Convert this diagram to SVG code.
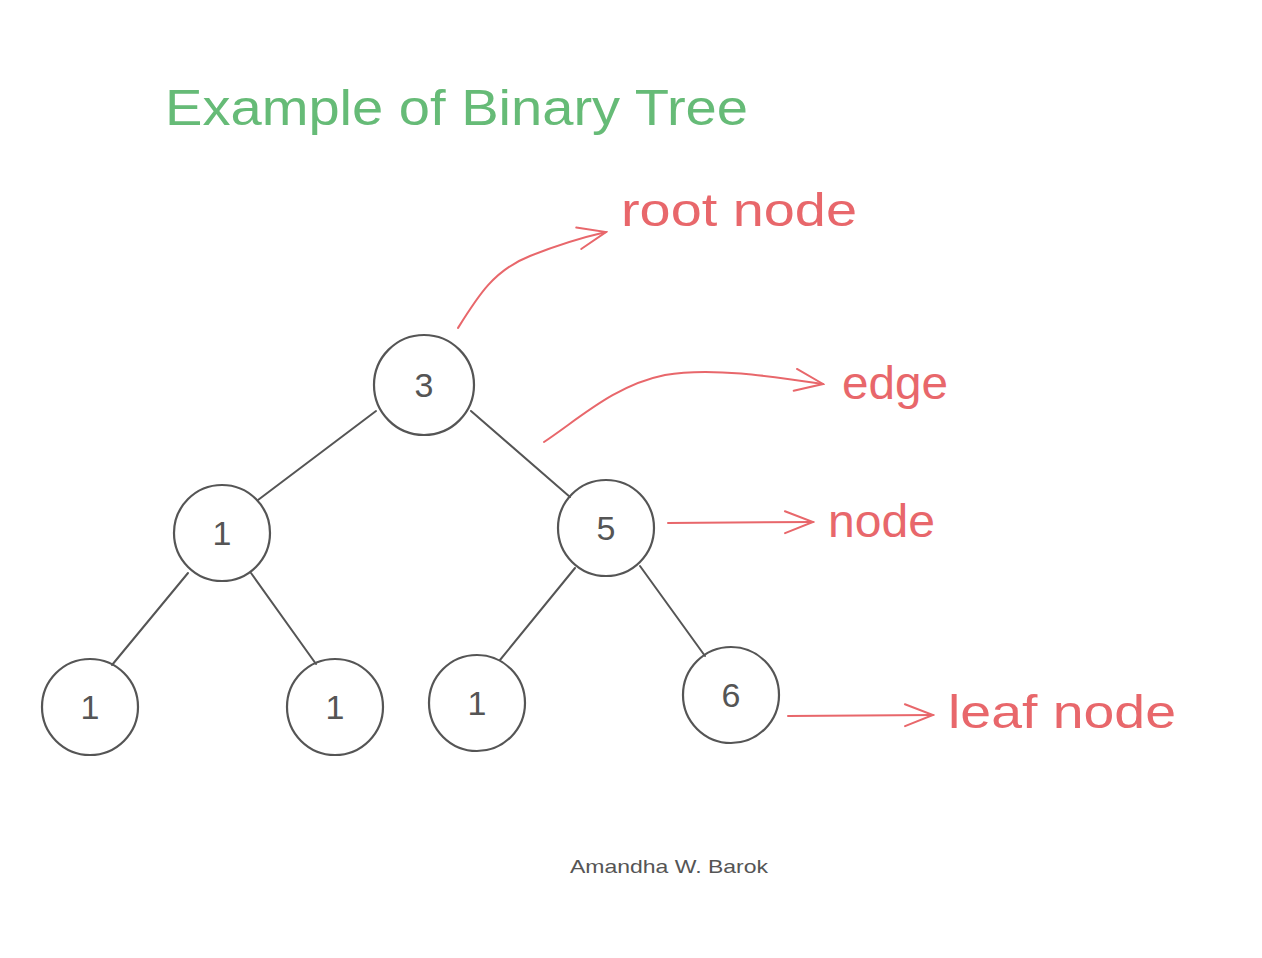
<svg xmlns="http://www.w3.org/2000/svg" width="1262" height="958" viewBox="0 0 1262 958">
<defs>
<style>
.node circle{fill:none;stroke:#555;stroke-width:2.2}
.node text{font-family:"Liberation Sans",Arial,sans-serif;font-size:34px;fill:#555;text-anchor:middle}
.edge{stroke:#555;stroke-width:2;fill:none;stroke-linecap:round}
.ann{stroke:#e8676b;stroke-width:2;fill:none;stroke-linecap:round;stroke-linejoin:round}
.lbl{font-family:"Liberation Sans",Arial,sans-serif;fill:#e8676b;font-size:46px}
</style>
<marker id="ah" viewBox="0 0 20 20" refX="18" refY="10" markerWidth="20" markerHeight="20" markerUnits="userSpaceOnUse" orient="auto">
<path d="M2,2 L18,10 L2,18" fill="none" stroke="#e8676b" stroke-width="2" stroke-linecap="round"/>
</marker>
<marker id="ah2" viewBox="0 0 34 30" refX="32" refY="15" markerWidth="34" markerHeight="30" markerUnits="userSpaceOnUse" orient="auto">
<path d="M4,4 L32,15 L4,26" fill="none" stroke="#e8676b" stroke-width="2" stroke-linecap="round"/>
</marker>
</defs>
<rect width="1262" height="958" fill="#fff"/>
<text x="165" y="125" font-family="Liberation Sans, Arial, sans-serif" font-size="50" fill="#66bb77" textLength="583" lengthAdjust="spacingAndGlyphs">Example of Binary Tree</text>
<g id="connectors">
<line class="edge" x1="376" y1="411" x2="258" y2="500"/>
<line class="edge" x1="471" y1="411" x2="570" y2="497"/>
<line class="edge" x1="188" y1="573" x2="112" y2="665"/>
<line class="edge" x1="251" y1="573" x2="316" y2="664"/>
<line class="edge" x1="575" y1="568" x2="500" y2="660"/>
<line class="edge" x1="640" y1="566" x2="705" y2="656"/>
<path class="ann" d="M458,328 C478,296 494,270 530,256 C555,246 580,238 606,232" marker-end="url(#ah2)"/>
<path class="ann" d="M544,442 C580,418 615,385 665,375 C710,367 770,376 823,384" marker-end="url(#ah2)"/>
<path class="ann" d="M668,523 L813,522" marker-end="url(#ah2)"/>
<path class="ann" d="M788,716 L933,715" marker-end="url(#ah2)"/>
</g>
<g id="n3" class="node"><circle cx="424" cy="385" r="50"/><text x="424" y="397">3</text></g>
<g id="n1a" class="node"><circle cx="222" cy="533" r="48"/><text x="222" y="545">1</text></g>
<g id="n5" class="node"><circle cx="606" cy="528" r="48"/><text x="606" y="540">5</text></g>
<g id="n1b" class="node"><circle cx="90" cy="707" r="48"/><text x="90" y="719">1</text></g>
<g id="n1c" class="node"><circle cx="335" cy="707" r="48"/><text x="335" y="719">1</text></g>
<g id="n1d" class="node"><circle cx="477" cy="703" r="48"/><text x="477" y="715">1</text></g>
<g id="n6" class="node"><circle cx="731" cy="695" r="48"/><text x="731" y="707">6</text></g>
<g id="labels">
<text class="lbl" x="621" y="226" textLength="236" lengthAdjust="spacingAndGlyphs">root node</text>
<text class="lbl" x="842" y="399" textLength="106" lengthAdjust="spacingAndGlyphs">edge</text>
<text class="lbl" x="828" y="537" textLength="107" lengthAdjust="spacingAndGlyphs">node</text>
<text class="lbl" x="948" y="728" textLength="228" lengthAdjust="spacingAndGlyphs">leaf node</text>
</g>
<text x="570" y="873" font-family="Liberation Sans, Arial, sans-serif" font-size="19" fill="#555" textLength="198" lengthAdjust="spacingAndGlyphs">Amandha W. Barok</text>
</svg>
